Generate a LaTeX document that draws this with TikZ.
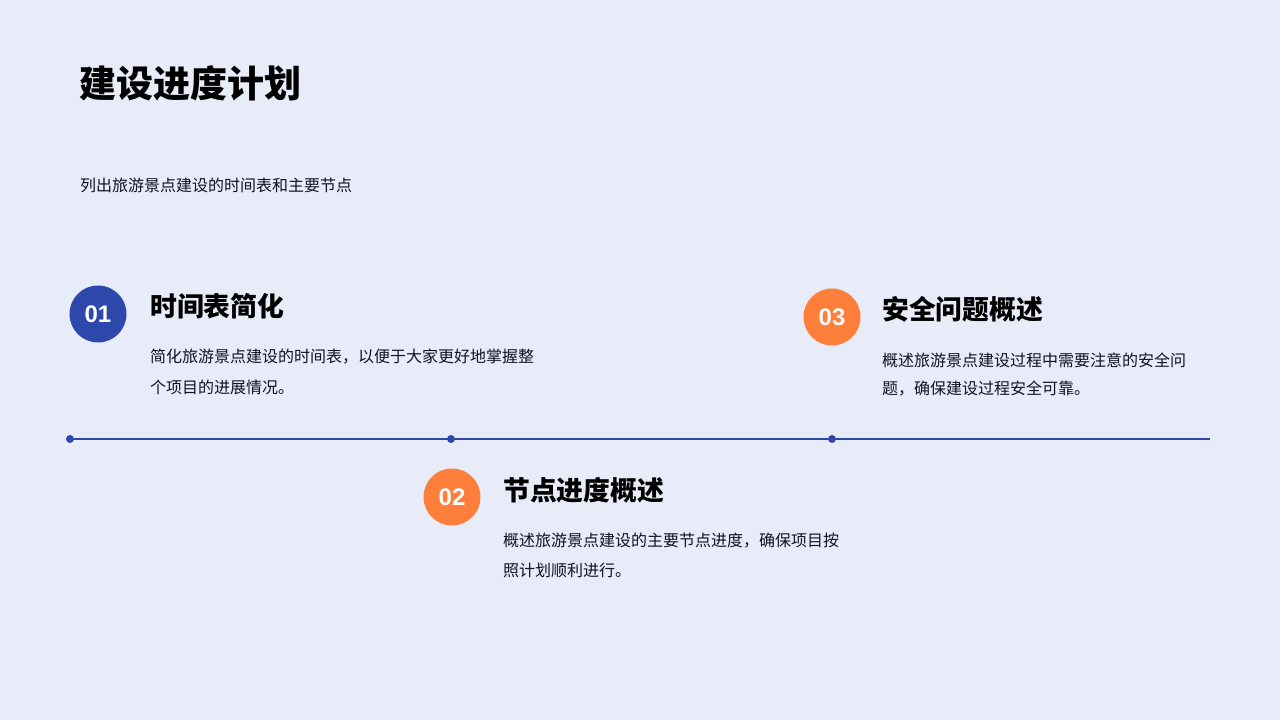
\documentclass[tikz,border=0pt]{standalone}
\usepackage{fontspec}
\setmainfont{Noto Sans CJK SC}
\newfontfamily\numfont{Liberation Sans}
\definecolor{bgc}{HTML}{E8EBF8}
\definecolor{bluec}{HTML}{2E47AA}
\definecolor{orangec}{HTML}{FF7F3A}
\definecolor{txtc}{HTML}{111122}
\begin{document}
\begin{tikzpicture}[x=1pt,y=1pt,
  title/.style={anchor=west,inner sep=0,font=\fontsize{37}{40}\selectfont\bfseries,text=black},
  sub/.style={anchor=west,inner sep=0,font=\fontsize{16}{18}\selectfont,text=txtc},
  head/.style={anchor=west,inner sep=0,font=\fontsize{26.8}{30}\selectfont\bfseries,text=black},
  bodytxt/.style={anchor=west,inner sep=0,font=\fontsize{16}{18}\selectfont,text=txtc},
  numcirc/.style={circle,minimum size=57pt,inner sep=0,text=white,font=\numfont\fontsize{24}{28}\selectfont\bfseries},
  dotc/.style={circle,fill=bluec,minimum size=8pt,inner sep=0},
  tline/.style={draw=bluec,line width=2.7pt}]
\fill[bgc] (0,0) rectangle (1280,720);
\useasboundingbox (0,0) rectangle (1280,720);
\node[title] (t) at (79,637) {建设进度计划};
\node[sub] (s) at (80,535) {列出旅游景点建设的时间表和主要节点};
% timeline
\node[dotc] (d1) at (70,281) {};
\node[dotc] (d2) at (451,281) {};
\node[dotc] (d3) at (832,281) {};
\coordinate (e) at (1210,281);
\draw[tline] (d1.center) -- (d2.center) -- (d3.center) -- (e);
% item 1
\node[numcirc,fill=bluec] (c1) at (98,406) {01};
\node[head] (h1) at (150,414) {时间表简化};
\node[bodytxt] (b1a) at (150,363) {简化旅游景点建设的时间表，以便于大家更好地掌握整};
\node[bodytxt] (b1b) at (150,333) {个项目的进展情况。};
% item 3
\node[numcirc,fill=orangec] (c3) at (832,403) {03};
\node[head] (h3) at (882,411) {安全问题概述};
\node[bodytxt] (b3a) at (882,360) {概述旅游景点建设过程中需要注意的安全问};
\node[bodytxt] (b3b) at (882,331) {题，确保建设过程安全可靠。};
% item 2
\node[numcirc,fill=orangec] (c2) at (452,223) {02};
\node[head] (h2) at (503,230) {节点进度概述};
\node[bodytxt] (b2a) at (503,179) {概述旅游景点建设的主要节点进度，确保项目按};
\node[bodytxt] (b2b) at (503,150) {照计划顺利进行。};
\end{tikzpicture}
\end{document}
